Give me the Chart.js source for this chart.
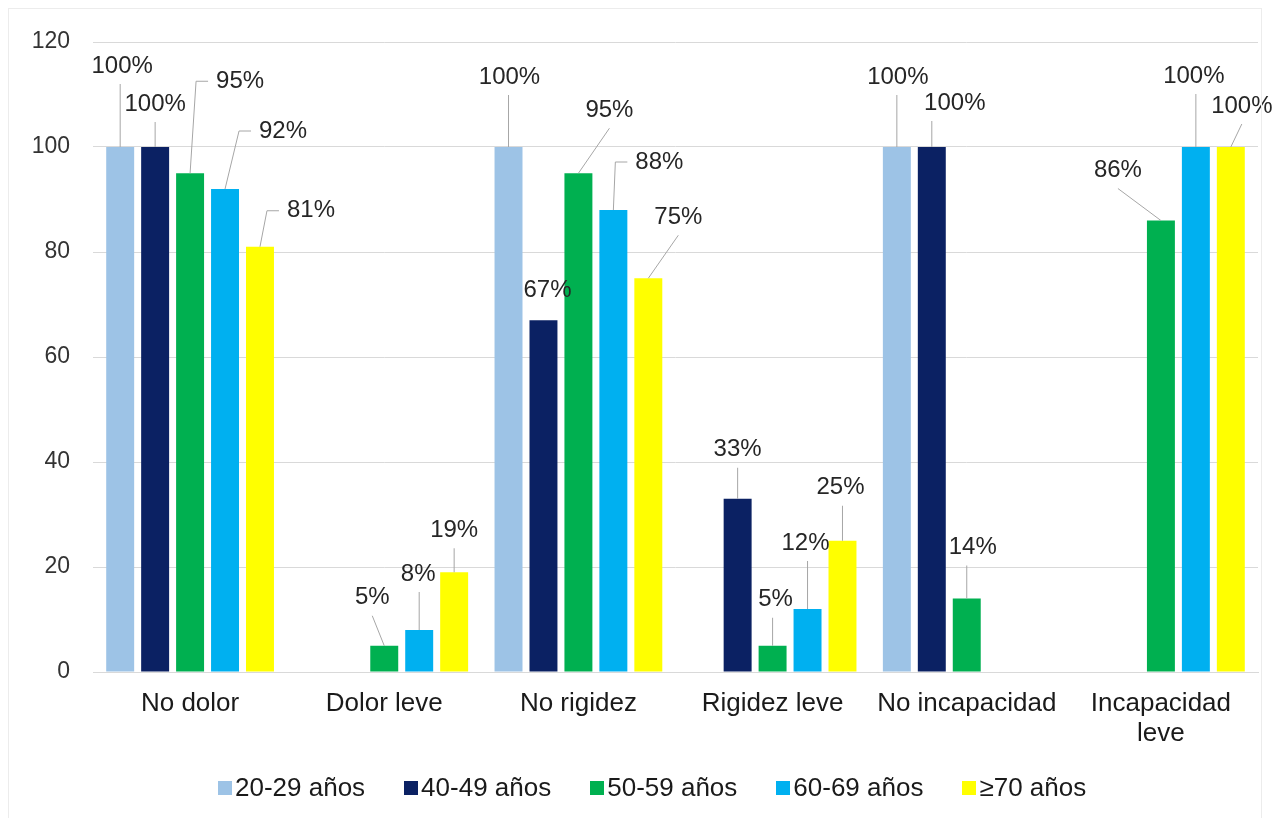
<!DOCTYPE html>
<html>
<head>
<meta charset="utf-8">
<script src="https://cdn.jsdelivr.net/npm/chart.js@4.4.0/dist/chart.umd.min.js"></script>
<style>
  html, body { margin: 0; padding: 0; background: #fff; }
  #wrap { position: relative; width: 1275px; height: 818px; }
  #frame { position: absolute; left: 8px; top: 8px; width: 1254px; height: 830px;
           border: 1px solid #ececec; box-sizing: border-box; pointer-events: none; }
  #leyenda { position: absolute; left: 218px; top: 772px; display: flex; gap: 39px;
             font: 26px "Liberation Sans", Arial, sans-serif; color: #1a1a1a; white-space: nowrap; }
  #leyenda span { display: flex; align-items: center; }
  #leyenda i { display: inline-block; width: 14px; height: 14px; margin-right: 3px; }
</style>
</head>
<body>
<div id="wrap">
  <canvas id="sintomas" width="1275" height="818"></canvas>
  <div id="leyenda"></div>
  <div id="frame"></div>
</div>
<script>
const categorias = ['No dolor', 'Dolor leve', 'No rigidez', 'Rigidez leve', 'No incapacidad', ['Incapacidad', 'leve']]
const grupos = ['20-29 años', '40-49 años', '50-59 años', '60-69 años', '≥70 años']

const edad20 = [100, null, 100, null, 100, null]
const edad40 = [100, null, 67, 33, 100, null]
const edad50 = [95, 5, 95, 5, 14, 86]
const edad60 = [92, 8, 88, 12, null, 100]
const edad70 = [81, 19, 75, 25, null, 100]

const colores = ['#9dc3e6', '#0b2163', '#00b050', '#00b0f0', '#ffff00']

// where each value label sits relative to the top of its bar [dx, dy], and how it is tied back
// 'v' = straight line up, 'd' = line to the label's middle, 's' = elbow to the label's left, 'n' = none
const etiquetaPos = [
  [[2, -81], null, [1, -70], null, [1, -70], null],
  [[0, -43], null, [4, -30], [0, -49], [23, -44], null],
  [[50, -92], [-12, -48], [31, -63], [3, -46], [6, -51], [-43, -50]],
  [[58, -58], [-1, -56], [46, -48], [-2, -66], null, [-2, -71]],
  [[51, -36], [0, -42], [30, -61], [-2, -53], null, [11, -41]]
]
const etiquetaLinea = [
  ['v', '', 'v', '', 'v', ''],
  ['v', '', 'n', 'v', 'v', ''],
  ['s', 'd', 'd', 'v', 'v', 'd'],
  ['s', 'v', 's', 'v', '', 'v'],
  ['s', 'v', 'd', 'v', '', 'd']
]

const series = [edad20, edad40, edad50, edad60, edad70]

const etiquetas = {
  id: 'etiquetas',
  afterDatasetsDraw(chart) {
    const ctx = chart.ctx
    ctx.save()
    ctx.font = '24px "Liberation Sans", Arial, sans-serif'
    ctx.textAlign = 'center'
    ctx.textBaseline = 'middle'
    series.forEach((valores, i) => {
      const meta = chart.getDatasetMeta(i)
      valores.forEach((v, j) => {
        if (v === null) return
        const bar = meta.data[j]
        const off = etiquetaPos[i][j]
        const modo = etiquetaLinea[i][j]
        const cx = bar.x + off[0]
        const cy = bar.y + off[1]
        const texto = v + '%'
        const w = ctx.measureText(texto).width
        ctx.strokeStyle = '#a6a6a6'
        ctx.lineWidth = 1
        ctx.beginPath()
        if (modo === 'v') {
          const ex = Math.min(Math.max(bar.x, cx - w / 2 + 4), cx + w / 2 - 4)
          ctx.moveTo(bar.x, bar.y)
          ctx.lineTo(ex, cy + 18)
        } else if (modo === 'd') {
          ctx.moveTo(bar.x, bar.y)
          ctx.lineTo(cx, cy + 18)
        } else if (modo === 's') {
          const left = cx - w / 2
          ctx.moveTo(bar.x, bar.y)
          ctx.lineTo(left - 20, cy)
          ctx.lineTo(left - 8, cy)
        }
        ctx.stroke()
        ctx.fillStyle = '#262626'
        ctx.fillText(texto, cx, cy)
      })
    })
    ctx.restore()
  }
}

const ctx = document.querySelector('#sintomas')
const chart = new Chart(ctx, {
  type: 'bar',
  data: {
    labels: categorias,
    datasets: series.map((valores, i) => ({
      label: grupos[i],
      data: valores,
      backgroundColor: colores[i],
      borderWidth: 0,
      categoryPercentage: 0.9,
      barPercentage: 0.8
    }))
  },
  options: {
    responsive: false,
    animation: false,
    layout: { padding: { left: 0, right: 17, top: 42, bottom: 66 } },
    plugins: {
      tooltip: { enabled: false },
      legend: { display: false }
    },
    scales: {
      x: {
        afterFit: (scale) => { scale.height = 80 },
        grid: { display: false },
        border: { display: true, color: '#d9d9d9' },
        ticks: {
          color: '#1a1a1a',
          padding: 9,
          maxRotation: 0,
          autoSkip: false,
          font: { family: '"Liberation Sans", Arial, sans-serif', size: 26, lineHeight: 1.15 }
        }
      },
      y: {
        min: 0,
        max: 120,
        afterFit: (scale) => { scale.width = 93 },
        grid: { color: '#d9d9d9', drawTicks: false },
        border: { display: false },
        ticks: {
          stepSize: 20,
          padding: 23,
          color: '#333',
          font: { family: '"Liberation Sans", Arial, sans-serif', size: 23 }
        }
      }
    }
  },
  plugins: [etiquetas]
})

// legend built from the chart's own datasets
const leyenda = document.querySelector('#leyenda')
chart.data.datasets.forEach(ds => {
  const item = document.createElement('span')
  const caja = document.createElement('i')
  caja.style.background = ds.backgroundColor
  item.appendChild(caja)
  item.appendChild(document.createTextNode(ds.label))
  leyenda.appendChild(item)
})
</script>
</body>
</html>
